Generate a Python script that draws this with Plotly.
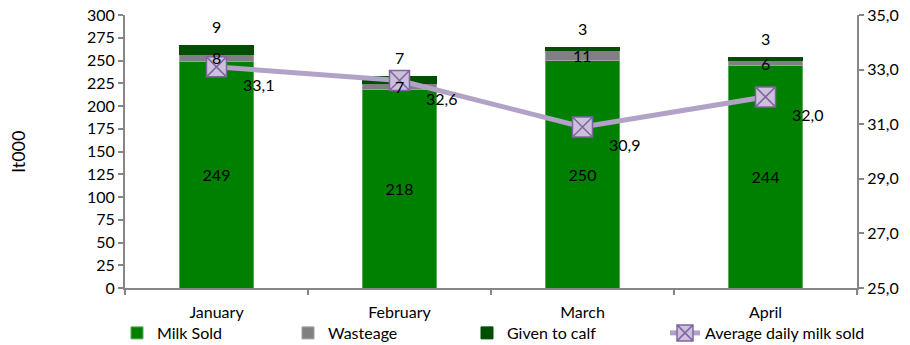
import plotly.graph_objects as go

months = ["January", "February", "March", "April"]
milk_sold = [249, 218, 250, 244]
wasteage = [8, 7, 11, 6]
given_to_calf = [9, 7, 3, 3]
avg_daily = [33.1, 32.6, 30.9, 32.0]

FONT = "Lato"
fig = go.Figure()
fig.add_trace(go.Bar(x=months, y=milk_sold, name="Milk Sold", marker_color="#008000",
                     marker_line=dict(color="#5aa85a", width=1), legend="legend", showlegend=True,
                     text=[str(v) for v in milk_sold], textposition="inside",
                     insidetextanchor="middle", textfont=dict(color="#000000", size=16)))
fig.add_trace(go.Bar(x=months, y=wasteage, name="Wasteage", marker_color="#808080",
                     marker_line=dict(color="#a0a0a0", width=1), legend="legend2"))
fig.add_trace(go.Bar(x=months, y=given_to_calf, name="Given to calf", marker_color="#004f00",
                     marker_line=dict(color="#004f00", width=1), legend="legend3"))

fig.add_trace(go.Scatter(x=months, y=avg_daily, name="Average daily milk sold", yaxis="y2",
                         mode="lines+markers", legend="legend4",
                         line=dict(color="#b3a2c7", width=5),
                         marker=dict(symbol="square-x", size=20, color="#ccc0da",
                                     line=dict(color="#8064a2", width=1.5)),
                         cliponaxis=False))

# labels for wasteage (middle of gray segment) and calf (above stack)
w_mid = [m + w / 2 for m, w in zip(milk_sold, wasteage)]
tops = [m + w + c for m, w, c in zip(milk_sold, wasteage, given_to_calf)]
for m, y, v in zip(months, w_mid, wasteage):
    fig.add_annotation(x=m, y=y, xref="x", yref="y", text=str(v), showarrow=False,
                       font=dict(size=16, color="#000000", family=FONT))
for m, y, v in zip(months, tops, given_to_calf):
    fig.add_annotation(x=m, y=y, xref="x", yref="y", text=str(v), showarrow=False, yshift=19,
                       font=dict(size=16, color="#000000", family=FONT))
for m, v in zip(months, avg_daily):
    fig.add_annotation(x=m, y=v, xref="x", yref="y2", text=f"{v:.1f}".replace(".", ","),
                       showarrow=False, xshift=42, yshift=-18,
                       font=dict(size=16, color="#000000", family=FONT))

axis_col = "#868686"

def leg(xpx):
    return dict(orientation="h", xref="container", yref="container", x=xpx / 910, xanchor="left",
                y=(345 - 333) / 345, yanchor="middle", font=dict(size=16), bgcolor="rgba(0,0,0,0)")

fig.update_layout(
    barmode="stack", bargap=0.6,
    width=910, height=345,
    showlegend=True,
    margin=dict(l=125, r=53, t=15, b=57, autoexpand=False),
    paper_bgcolor="white", plot_bgcolor="white",
    separators=",.",
    font=dict(family=FONT, size=16, color="#000000"),
    xaxis=dict(showline=True, linecolor=axis_col, linewidth=2, ticks="outside", tickson="boundaries",
               ticklen=5, tickcolor=axis_col, tickwidth=2, showgrid=False, ticklabelstandoff=9),
    yaxis=dict(range=[0, 300], dtick=25, showline=True, linecolor=axis_col, linewidth=2,
               ticks="outside", ticklen=5, tickcolor=axis_col, tickwidth=2, showgrid=False,
               zeroline=False, title=dict(text="lt000", font=dict(size=18), standoff=57)),
    yaxis2=dict(range=[25, 35], tick0=25, dtick=2, tickformat=".1f", overlaying="y", side="right",
                showline=True, linecolor=axis_col, linewidth=2, ticks="outside", ticklen=5,
                tickcolor=axis_col, tickwidth=2, showgrid=False, zeroline=False),
    legend=leg(117),
    legend2=leg(288),
    legend3=leg(467),
    legend4=leg(665),
)
fig.write_html("out.html")
